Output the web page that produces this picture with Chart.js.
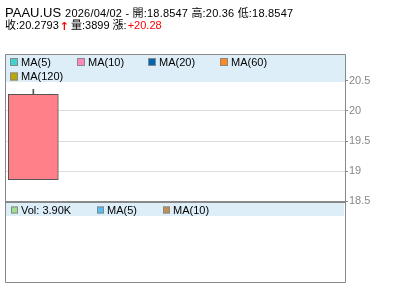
<!DOCTYPE html>
<html><head><meta charset="utf-8">
<script src="https://cdn.jsdelivr.net/npm/chart.js@4.4.1/dist/chart.umd.min.js"></script>
<style>html,body{margin:0;padding:0;background:#fff;}#c{display:block;}</style>
</head><body>
<canvas id="c" width="400" height="301"></canvas>
<script>
const symbol = 'PAAU.US';
const dateStr = '2026/04/02';
const categories = ['2026/04/02', '', '', '', '', ''];
const openVals = [18.8547];
const highVals = [20.36];
const lowVals = [18.8547];
const closeVals = [20.2793];
const volumeVals = [3899];
const changeVals = [20.28];
const yTicks = [18.5, 19, 19.5, 20, 20.5];
const yMin = 18.5, yMax = 20.95;
const maLegend = ['MA(5)', 'MA(10)', 'MA(20)', 'MA(60)', 'MA(120)'];
const maColors = ['#40D4D0', '#FF88BB', '#0066B3', '#FF8822', '#B8A800'];
const volLegend = ['Vol: 3.90K', 'MA(5)', 'MA(10)'];
const volColors = ['#A0E090', '#50C0F0', '#C09050'];

const FONT = '"Liberation Sans", Arial, "Noto Sans CJK TC", sans-serif';

const bodyData = categories.map((c, i) => i < openVals.length ? [openVals[i], closeVals[i]] : null);
const wickData = categories.map((c, i) => i < openVals.length ? [lowVals[i], highVals[i]] : null);

const decor = {
  id: 'decor',
  beforeDatasetsDraw(chart) {
    const ctx = chart.ctx, a = chart.chartArea;
    ctx.save();
    ctx.fillStyle = '#DDEEF9';
    ctx.fillRect(a.left + 1, a.top + 1, a.right - a.left - 1, 27);
    ctx.restore();
  },
  afterDraw(chart) {
    const ctx = chart.ctx, a = chart.chartArea;
    ctx.save();
    // title line 1
    ctx.textBaseline = 'alphabetic';
    ctx.fillStyle = '#000';
    ctx.font = '13px ' + FONT;
    ctx.fillText(symbol, 5, 17);
    let x = 5 + ctx.measureText(symbol).width + 4;
    ctx.font = '11px ' + FONT;
    ctx.letterSpacing = '0.2px';
    const l1 = dateStr + ' - 開:' + openVals[0] + ' 高:' + highVals[0] + ' 低:' + lowVals[0];
    ctx.fillText(l1, x, 17);
    ctx.letterSpacing = '0px';
    // title line 2
    x = 5;
    const p1 = '收:' + closeVals[0];
    ctx.fillText(p1, x, 29);
    x += ctx.measureText(p1).width + 1;
    ctx.fillStyle = '#FF0000';
    ctx.font = 'bold 11px "DejaVu Sans", sans-serif';
    ctx.fillText('↑', x, 30);
    x += ctx.measureText('↑').width + 2;
    ctx.font = '11px ' + FONT;
    ctx.fillStyle = '#000';
    const p2 = '量:' + volumeVals[0] + ' 漲:';
    ctx.fillText(p2, x, 29);
    x += ctx.measureText(p2).width + 1;
    ctx.fillStyle = '#FF0000';
    ctx.fillText('+' + changeVals[0].toFixed(2), x, 29);

    // main legend
    const legPos = [[10, 62], [77, 62], [148, 62], [220, 62], [10, 76.5]];
    ctx.font = '11px ' + FONT;
    ctx.textBaseline = 'middle';
    maLegend.forEach((t, i) => {
      const [lx, ly] = legPos[i];
      ctx.fillStyle = maColors[i];
      ctx.fillRect(lx, ly - 4, 8, 8);
      ctx.strokeStyle = '#888';
      ctx.lineWidth = 1;
      ctx.strokeRect(lx + 0.5, ly - 3.5, 7, 7);
      ctx.fillStyle = '#000';
      ctx.fillText(t, lx + 11, ly + 0.5);
    });

    // borders of main panel
    ctx.strokeStyle = '#888';
    ctx.lineWidth = 1;
    ctx.beginPath();
    ctx.moveTo(a.left + 0.5, a.bottom + 1);
    ctx.lineTo(a.left + 0.5, a.top + 0.5);
    ctx.lineTo(a.right + 0.5, a.top + 0.5);
    ctx.lineTo(a.right + 0.5, a.bottom + 1);
    ctx.stroke();

    // volume panel
    const vt = a.bottom + 1, vb = 282;
    ctx.fillStyle = '#DDEEF9';
    ctx.fillRect(a.left + 1, vt + 1, a.right - a.left - 2, 13);
    ctx.beginPath();
    ctx.moveTo(a.left + 0.5, vt);
    ctx.lineTo(a.left + 0.5, vb + 0.5);
    ctx.lineTo(a.right + 0.5, vb + 0.5);
    ctx.lineTo(a.right + 0.5, vt);
    ctx.stroke();
    ctx.lineWidth = 2;
    ctx.beginPath();
    ctx.moveTo(a.left, vt);
    ctx.lineTo(a.right + 1, vt);
    ctx.stroke();

    const vPos = [11, 97, 163];
    volLegend.forEach((t, i) => {
      const lx = vPos[i], ly = 210.5;
      ctx.fillStyle = volColors[i];
      ctx.fillRect(lx, ly - 4, 7, 7);
      ctx.strokeStyle = '#888';
      ctx.lineWidth = 1;
      ctx.strokeRect(lx + 0.5, ly - 3.5, 6, 6);
      ctx.fillStyle = '#000';
      ctx.fillText(t, lx + 10, ly);
    });
    ctx.restore();
  }
};

new Chart(document.getElementById('c'), {
  type: 'bar',
  data: {
    labels: categories,
    datasets: [
      { label: 'wick', data: wickData, backgroundColor: '#555555', borderWidth: 0, barThickness: 1, grouped: false, order: 2 },
      { label: 'body', data: bodyData, backgroundColor: '#FF8088', borderColor: '#555555', borderWidth: 1, borderSkipped: false, barThickness: 50, grouped: false, order: 1 }
    ]
  },
  options: {
    responsive: false,
    animation: false,
    events: [],
    layout: { padding: { top: 54, left: 5, right: 0, bottom: 100 } },
    plugins: { legend: { display: false }, tooltip: { enabled: false }, title: { display: false } },
    scales: {
      x: { display: false },
      y: {
        position: 'right',
        min: yMin, max: yMax,
        afterFit(s) { s.width = 55; },
        afterBuildTicks(s) { s.ticks = yTicks.map(v => ({ value: v })); },
        border: { display: false },
        grid: { color: '#DDDDDD', tickColor: '#888888', tickLength: 3, lineWidth: 1 },
        ticks: { color: '#888888', padding: 1, font: { family: FONT, size: 11 }, callback: v => String(v) }
      }
    }
  },
  plugins: [decor]
});
</script>
</body></html>
